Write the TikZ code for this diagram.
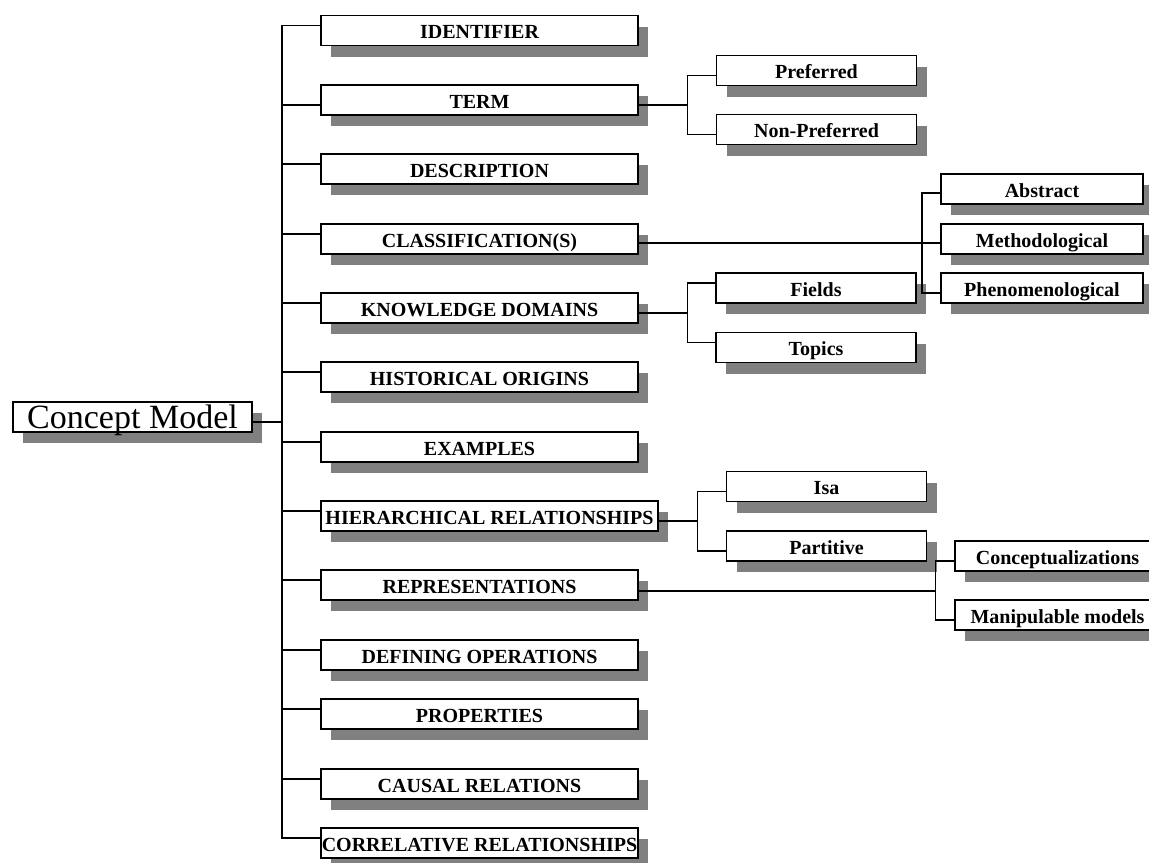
\documentclass[tikz,border=0pt]{standalone}
\usepackage{fontspec}
\setmainfont{Liberation Serif}
\usetikzlibrary{shadows}
\definecolor{shade}{HTML}{808080}
\tikzstyle{entry} = [rectangle, draw=black, line width=0.8pt, fill=white, inner sep=0pt, minimum height=15pt, text centered, text height=8pt, text depth=0pt, font=\fontsize{10}{12}\selectfont\bfseries, drop shadow={shadow xshift=5pt, shadow yshift=-5.5pt, fill=shade, opacity=1}]
\tikzstyle{main} = [entry, minimum width=158.5pt]
\tikzstyle{leaf} = [entry, minimum width=100pt]
\tikzstyle{root} = [entry, minimum width=119.5pt, text height=11pt, font=\fontsize{17}{20}\selectfont]
\tikzstyle{link} = [line width=0.6pt]

\begin{document}
\begin{tikzpicture}[x=0.5pt, y=-0.5pt]
	\useasboundingbox (0,0) rectangle (1149,862);
	\clip (0,0) rectangle (1149,862);

	% Root
	\node (cm) [root] at (132.5,417) {Concept Model};

	% Column 1
	\node (idf) [main] at (479.5,30.5) {IDENTIFIER};
	\node (term) [main] at (479.5,100) {TERM};
	\node (descr) [main] at (479.5,169) {DESCRIPTION};
	\node (class) [main] at (479.5,239) {CLASSIFICATION(S)};
	\node (kd) [main] at (479.5,308) {KNOWLEDGE DOMAINS};
	\node (hist) [main] at (479.5,377) {HISTORICAL ORIGINS};
	\node (ex) [main] at (479.5,447) {EXAMPLES};
	\node (hier) [main, minimum width=168.5pt] at (489.5,516) {HIERARCHICAL RELATIONSHIPS};
	\node (rep) [main] at (479.5,585) {REPRESENTATIONS};
	\node (def) [main] at (479.5,655) {DEFINING OPERATIONS};
	\node (prop) [main] at (479.5,714) {PROPERTIES};
	\node (caus) [main] at (479.5,784) {CAUSAL RELATIONS};
	\node (corr) [main] at (479.5,843) {CORRELATIVE RELATIONSHIPS};

	% Column 2
	\node (pref) [leaf] at (816.5,70.5) {Preferred};
	\node (npref) [leaf] at (816.5,129.5) {Non-Preferred};
	\node (fields) [leaf] at (816,288) {Fields};
	\node (topics) [leaf] at (816,347.5) {Topics};
	\node (isa) [leaf] at (826.5,486.5) {Isa};
	\node (part) [leaf] at (826.5,546) {Partitive};

	% Column 3
	\node (abs) [leaf, minimum width=101pt] at (1042,189) {Abstract};
	\node (meth) [leaf, minimum width=101pt] at (1042,239) {Methodological};
	\node (phen) [leaf, minimum width=101pt] at (1042,288) {Phenomenological};
	\node (conc) [leaf, minimum width=102.5pt] at (1057.5,556) {Conceptualizations};
	\node (manip) [leaf, minimum width=102.5pt] at (1057.5,615) {Manipulable models};

	% Root to column 1
	\coordinate (spine) at (282,422);
	\draw [link] ([yshift=-2.5pt]cm.east) -- (spine);
	\foreach \n in {idf,descr,class,kd,hist,ex,hier,rep,def,prop,caus,corr}
		\draw [link] (spine) |- ([yshift=2.5pt]\n.west);
	\draw [link] (spine) |- ([yshift=-2.5pt]term.west);

	% Links to column 2
	\draw [link] ([yshift=-2.5pt]term.east) -- ++(49,0) coordinate (termfork);
	\draw [link] (termfork) |- ([yshift=-2.5pt]pref.west);
	\draw [link] (termfork) |- ([yshift=-2.5pt]npref.west);

	\draw [link] ([yshift=-2.5pt]kd.east) -- ++(49,0) coordinate (kdfork);
	\draw [link] (kdfork) |- ([yshift=2.5pt]fields.west);
	\draw [link] (kdfork) |- ([yshift=2.5pt]topics.west);

	\draw [link] ([yshift=-2.5pt]hier.east) -- ++(39,0) coordinate (hierfork);
	\draw [link] (hierfork) |- ([yshift=-2.5pt]isa.west);
	\draw [link] (hierfork) |- ([yshift=-2.5pt]part.west);

	% Links to column 3
	\draw [link] ([yshift=-2pt]class.east) -- ([yshift=-2pt]meth.west);
	\coordinate (classfork) at (922,243);
	\draw [link] (classfork) |- ([yshift=-2pt]abs.west);
	\draw [link] (classfork) |- ([yshift=-2.5pt]phen.west);

	\draw [link] ([yshift=-3pt]rep.east) -- ++(297,0) coordinate (repfork);
	\draw [link] (repfork) |- ([yshift=-2.5pt]conc.west);
	\draw [link] (repfork) |- ([yshift=-2.5pt]manip.west);

\end{tikzpicture}
\end{document}
